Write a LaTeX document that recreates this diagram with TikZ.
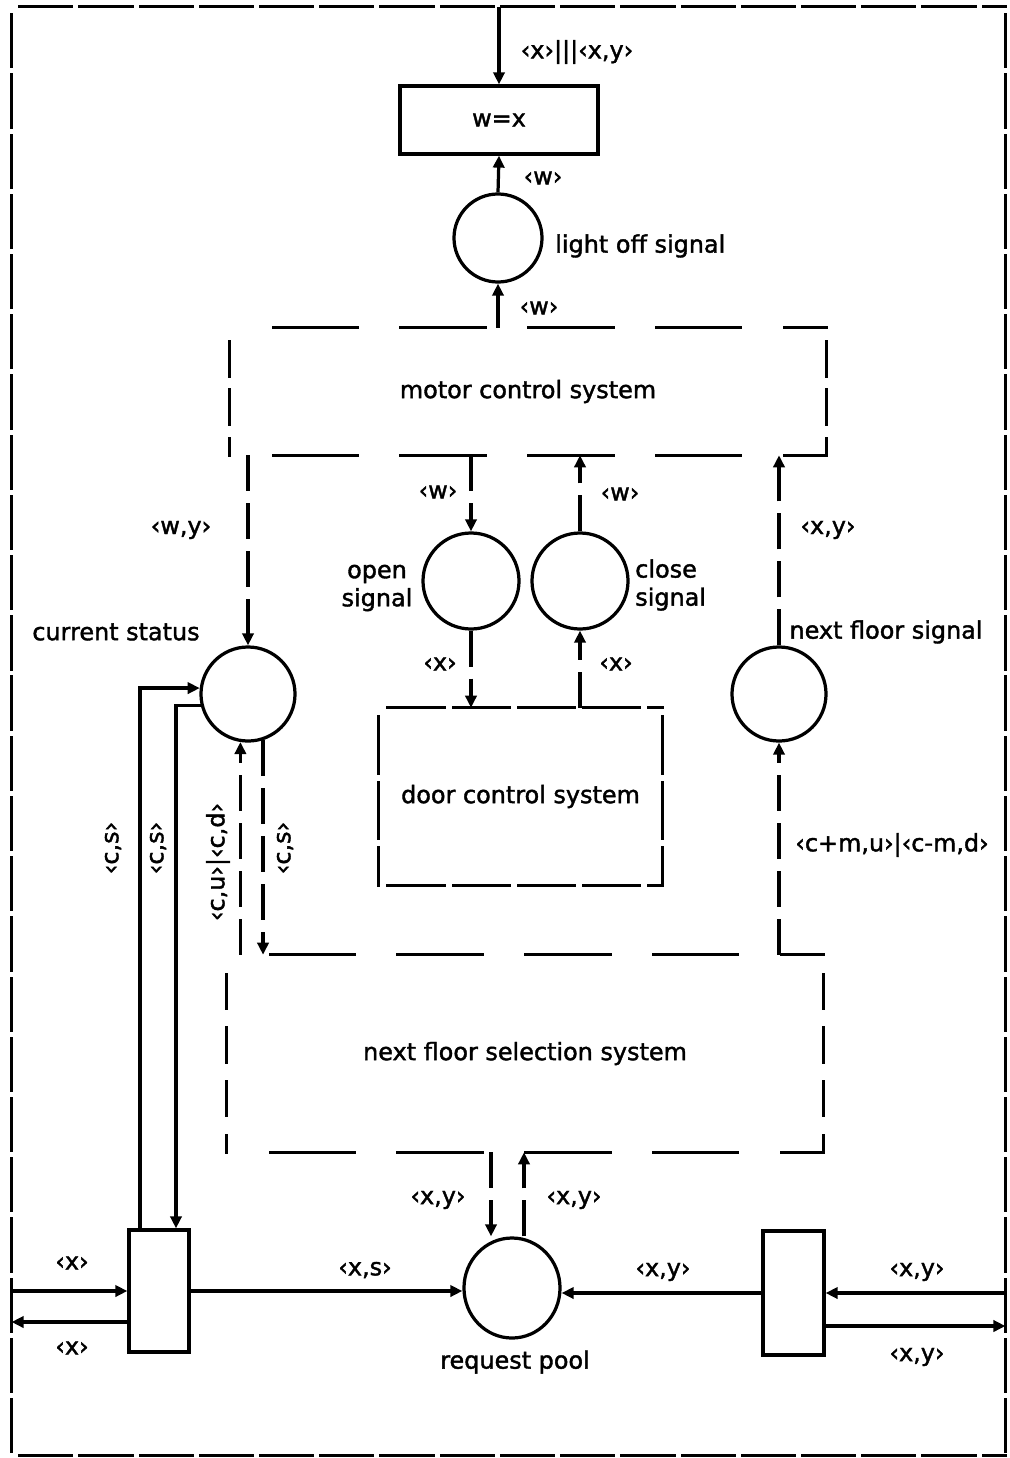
\documentclass[tikz,border=0pt]{standalone}
\usepackage{fontspec}
\setmainfont{DejaVu Sans}
\newfontfamily\lblfont{DejaVu Sans}[BoldFont=DejaVu Sans, BoldFeatures={FakeBold=1.6}]
\usetikzlibrary{arrows.meta,shapes.geometric,calc,decorations}
\tikzset{
  ln/.style={line width=2.3pt},
  arr/.style={ln, -{Triangle[length=0.3cm,width=0.28cm]}},
  dsh/.style={dash pattern=on 0.9cm off 0.3cm},
  txt/.style={font=\lblfont\bfseries\fontsize{17}{20}\selectfont},
  place/.style={circle, draw, line width=2.3pt, inner sep=0pt},
  trans/.style={rectangle, draw, line width=2.3pt, inner sep=0pt},
  sys/.style={rectangle, inner sep=0pt, txt},
  hdash/.style={line width=2.3pt, line cap=rect, dash pattern=on 2.1cm off 0.9cm, dash expand off},
  vdash/.style={line width=2.3pt, line cap=rect, dash pattern=on 0.85cm off 0.35cm, dash expand off},
  ddash/.style={line width=2.3pt, line cap=rect, dash pattern=on 1.4cm off 0.2cm, dash expand off},
  lbl/.style={txt, inner sep=0pt},
  framebox/.style={rectangle, inner sep=0pt},
  fdash/.style={line width=2.3pt, line cap=rect, dash pattern=on 1.3cm off 0.2cm, dash expand off},
}
\begin{document}
\begin{tikzpicture}[x=0.025cm,y=-0.025cm]
\useasboundingbox (0,0) rectangle (1009,1458);
% outer frame
\node[framebox, minimum width=24.825cm, minimum height=36.2cm] (frame) at (508.5,731) {};
\draw[fdash] (frame.north west) -- (frame.north east) (frame.south west) -- (frame.south east)
  (frame.north west) -- (frame.south west) (frame.north east) -- (frame.south east);
% boxes
\node[trans, minimum width=4.95cm, minimum height=1.7cm, txt] (wx) at (499,120) {w=x};
\node[sys, minimum width=14.9cm, minimum height=3.175cm] (motor) at (528,391.5) {motor control system};
\node[sys, minimum width=7.075cm, minimum height=4.425cm] (door) at (520.5,796.5) {door control system};
\node[sys, minimum width=14.9cm, minimum height=4.925cm] (nfs) at (525,1053.5) {next floor selection system};
\foreach \b in {motor,nfs}{
  \draw[hdash] (\b.north west) -- (\b.north east) (\b.south west) -- (\b.south east);
  \draw[vdash] (\b.north west) -- (\b.south west) (\b.north east) -- (\b.south east);
}
\draw[ddash] (door.north west) -- (door.north east) (door.south west) -- (door.south east)
  (door.north west) -- (door.south west) (door.north east) -- (door.south east);
\node[trans, minimum width=1.5cm, minimum height=3.05cm] (ltr) at (159,1291) {};
\node[trans, minimum width=1.525cm, minimum height=3.1cm] (rtr) at (793.5,1293) {};
% places
\node[place, minimum size=2.2cm] (lo) at (498,238) {};
\node[place, minimum size=2.4cm] (open) at (471,581) {};
\node[place, minimum size=2.4cm] (close) at (580,581) {};
\node[place, minimum size=2.35cm] (cs) at (248,694) {};
\node[place, minimum size=2.35cm] (nf) at (779,694) {};
\node[ellipse, draw, line width=2.3pt, inner sep=0pt, minimum width=2.4cm, minimum height=2.5cm] (rp) at (512,1288) {};
% helper x positions
\coordinate (xa) at (140,0);
\coordinate (xb) at (176,0);
\coordinate (xc) at (491,0);
\coordinate (xd) at (524,0);
\coordinate (yo1) at (0,1322);
\coordinate (yo2) at (0,1326);
% connectors top
\draw[arr] (wx.north |- frame.north) -- (wx.north);
\draw[arr] (lo.north) -- (wx.south);
\draw[arr, dsh] (lo.south |- motor.north) -- (lo.south);
% motor to places
\draw[arr, dsh] (cs.north |- motor.south) -- (cs.north);
\draw[arr, dsh] (open.north |- motor.south) -- (open.north);
\draw[arr, dsh] (close.north) -- (close.north |- motor.south);
\draw[arr, dsh] (nf.north) -- (nf.north |- motor.south);
% door
\draw[arr, dsh] (open.south) -- (open.south |- door.north);
\draw[arr, dsh] (close.south |- door.north) -- (close.south);
% next floor signal
\draw[arr, dsh] (nf.south |- nfs.north) -- (nf.south);
% current status <-> nfs
\draw[arr, dsh] (cs.261 |- nfs.north) -- (cs.261);
\draw[arr, dsh] (cs.288) -- (cs.288 |- nfs.north);
% loops to left transition
\draw[arr] (ltr.north -| xa) |- (cs.173);
\draw[arr] (cs.194) -| (ltr.north -| xb);
% request pool
\draw[arr, dsh] (nfs.south -| xc) -- (rp.north -| xc);
\draw[arr, dsh] (rp.north -| xd) -- (nfs.south -| xd);
\draw[arr] (ltr.east) -- (ltr.east -| rp.west);
\draw[arr] (rtr.west) -- (rtr.west -| rp.east);
% frame in/out
\draw[arr] (frame.west |- ltr.west) -- (ltr.west);
\draw[arr] (ltr.west |- yo1) -- (frame.west |- yo1);
\draw[arr] (frame.east |- rtr.east) -- (rtr.east);
\draw[arr] (rtr.east |- yo2) -- (frame.east |- yo2);
% labels
\node[lbl] (l1) at (577,52) {‹x›|||‹x,y›};
\node[lbl] (l2) at (543,178) {‹w›};
\node[lbl, anchor=west] (l3) at (555,246) {light off signal};
\node[lbl] (l4) at (539,308) {‹w›};
\node[lbl] (l5) at (181,530) {‹w,y›};
\node[lbl] (l6) at (438,492) {‹w›};
\node[lbl] (l7) at (620,494) {‹w›};
\node[lbl, align=center] (l8) at (377,588) {open\\signal};
\node[lbl, align=left, anchor=west] (l9) at (635,585) {close\\signal};
\node[lbl] (l10) at (440,664) {‹x›};
\node[lbl] (l11) at (616,664) {‹x›};
\node[lbl] (l12) at (828,530) {‹x,y›};
\node[lbl] (l13) at (116,632) {current status};
\node[lbl] (l14) at (886,632) {next floor signal};
\node[lbl] (l15) at (892,845) {‹c+m,u›|‹c-m,d›};
\node[lbl, rotate=90] (l16) at (113,848) {‹c,s›};
\node[lbl, rotate=90] (l17) at (158,848) {‹c,s›};
\node[lbl, rotate=90] (l18) at (218,862) {‹c,u›|‹c,d›};
\node[lbl, rotate=90] (l19) at (285,848) {‹c,s›};
\node[lbl] (l20) at (438,1200) {‹x,y›};
\node[lbl] (l21) at (574,1200) {‹x,y›};
\node[lbl] (l22) at (72,1263) {‹x›};
\node[lbl] (l23) at (72,1348) {‹x›};
\node[lbl] (l24) at (365,1270) {‹x,s›};
\node[lbl] (l25) at (663,1272) {‹x,y›};
\node[lbl] (l26) at (917,1272) {‹x,y›};
\node[lbl] (l27) at (917,1357) {‹x,y›};
\node[lbl] (l28) at (515,1362) {request pool};
\end{tikzpicture}
\end{document}
